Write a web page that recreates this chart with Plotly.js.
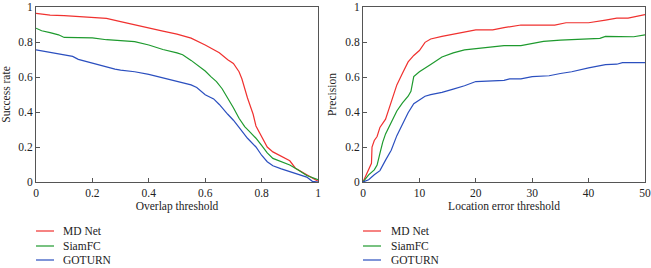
<!DOCTYPE html>
<html><head><meta charset="utf-8">
<script src="https://cdn.plot.ly/plotly-3.0.1.min.js"></script>
<style>body{margin:0;padding:0;background:#fff}#chart{width:651px;height:268px}</style>
</head><body><div id="chart"></div>
<script>
// Success plot (overlap threshold)
const overlapX_md = [0,0.05,0.1,0.2,0.25,0.3,0.35,0.4,0.45,0.5,0.55,0.6,0.65,0.68,0.7,0.72,0.73,0.75,0.77,0.78,0.8,0.82,0.84,0.87,0.9,0.92,0.95,0.98,1.0];
const successMD = [0.963,0.953,0.951,0.942,0.935,0.916,0.897,0.880,0.862,0.845,0.822,0.783,0.738,0.699,0.677,0.63,0.59,0.48,0.387,0.32,0.256,0.2,0.172,0.148,0.121,0.079,0.05,0.022,0.005];
const overlapX_siam = [0,0.02,0.05,0.08,0.1,0.15,0.2,0.25,0.3,0.35,0.4,0.45,0.5,0.52,0.55,0.58,0.6,0.62,0.64,0.66,0.68,0.7,0.72,0.74,0.76,0.78,0.8,0.82,0.84,0.87,0.9,0.93,0.96,1.0];
const successSiam = [0.879,0.864,0.854,0.841,0.826,0.824,0.824,0.813,0.807,0.802,0.783,0.757,0.738,0.727,0.695,0.658,0.634,0.602,0.574,0.533,0.48,0.424,0.364,0.316,0.284,0.25,0.209,0.166,0.135,0.116,0.097,0.069,0.037,0.013];
const overlapX_go = [0,0.05,0.1,0.13,0.15,0.2,0.25,0.28,0.3,0.35,0.4,0.45,0.5,0.55,0.57,0.6,0.63,0.65,0.68,0.7,0.72,0.75,0.78,0.8,0.82,0.84,0.87,0.9,0.93,0.96,0.98,1.0];
const successGo = [0.755,0.742,0.729,0.718,0.701,0.679,0.656,0.645,0.639,0.630,0.615,0.596,0.578,0.555,0.540,0.499,0.475,0.443,0.387,0.353,0.312,0.25,0.2,0.153,0.116,0.093,0.075,0.06,0.047,0.028,0.004,0.0];

// Precision plot (location error threshold)
const locX_md = [0,1,1.5,1.6,2,2.5,3,4,5,6,7,8,9,10,11,12,14,16,18,20,23,25,28,30,34,36,40,43,45,47,50];
const precMD = [0,0.07,0.107,0.2,0.237,0.26,0.312,0.359,0.462,0.555,0.621,0.686,0.723,0.751,0.798,0.817,0.832,0.845,0.86,0.869,0.869,0.882,0.897,0.897,0.897,0.91,0.91,0.925,0.936,0.936,0.957];
const locX_siam = [0,1,2,2.5,3,3.5,4,5,6,7,8,8.5,9,10,11,12,14,16,18,20,23,25,28,30,32,35,38,42,43,48,50];
const precSiam = [0,0.041,0.069,0.097,0.163,0.228,0.275,0.34,0.406,0.452,0.49,0.518,0.602,0.63,0.649,0.671,0.714,0.738,0.755,0.761,0.774,0.779,0.779,0.793,0.804,0.811,0.817,0.821,0.832,0.83,0.841];
const locX_go = [0,1,2,3,4,5,6,7,8,9,10,11,12,14,16,18,20,23,25,26,28,30,33,35,37,40,43,45,46,50];
const precGo = [0,0.013,0.041,0.065,0.125,0.181,0.265,0.331,0.396,0.447,0.471,0.49,0.499,0.512,0.531,0.55,0.574,0.579,0.581,0.589,0.589,0.602,0.607,0.62,0.63,0.652,0.671,0.673,0.682,0.682];

const names = ['MD Net','SiamFC','GOTURN'];
const colors = ['#f0312f','#1e9a2e','#2b4fbf'];

const traces = [
  {x:overlapX_md,y:successMD,name:names[0]},
  {x:overlapX_siam,y:successSiam,name:names[1]},
  {x:overlapX_go,y:successGo,name:names[2]},
  {x:locX_md,y:precMD,name:names[0],xaxis:'x2',yaxis:'y2'},
  {x:locX_siam,y:precSiam,name:names[1],xaxis:'x2',yaxis:'y2'},
  {x:locX_go,y:precGo,name:names[2],xaxis:'x2',yaxis:'y2'}
].map((t,i)=>Object.assign({type:'scatter',mode:'lines',line:{color:colors[i%3],width:1.2},showlegend:false},t));

const W=651,H=268;
const font = {family:'Liberation Serif, Times New Roman, serif',size:11.5,color:'#222'};
const axBase = {showline:true,linecolor:'#555',linewidth:1,mirror:true,ticks:'inside',ticklen:4,tickcolor:'#555',showgrid:false,zeroline:false,automargin:false,ticklabeloverflow:'allow',tickfont:{size:11.5}};
const yDom = [1-182/H, 1-7/H];

// legend drawn as shapes + text annotations, one block under each panel
const shapes=[], annotations=[];
const legendRows=[231,246,260];
[[36,61],[363,389]].forEach(([lx,tx])=>{
  names.forEach((n,i)=>{
    const yy=1-legendRows[i]/H;
    shapes.push({type:'line',xref:'paper',yref:'paper',x0:lx/W,x1:(lx+18)/W,y0:yy,y1:yy,line:{color:colors[i],width:1.2}});
    annotations.push({xref:'paper',yref:'paper',x:tx/W,y:yy,xanchor:'left',yanchor:'middle',text:n,showarrow:false,font:{size:11.5,color:'#222'}});
  });
});

const layout = {
  width:W,height:H,margin:{l:0,r:0,t:0,b:0},
  paper_bgcolor:'#fff',plot_bgcolor:'#fff',font:font,showlegend:false,
  xaxis:Object.assign({},axBase,{domain:[36/W,318/W],range:[0,1],dtick:0.2,anchor:'y',title:{text:'Overlap threshold',standoff:4,font:{size:11.5}}}),
  yaxis:Object.assign({},axBase,{domain:yDom,range:[0,1],dtick:0.2,anchor:'x',title:{text:'Success rate',standoff:6,font:{size:11.5}}}),
  xaxis2:Object.assign({},axBase,{domain:[363/W,645/W],range:[0,50],dtick:10,anchor:'y2',title:{text:'Location error threshold',standoff:4,font:{size:11.5}}}),
  yaxis2:Object.assign({},axBase,{domain:yDom,range:[0,1],dtick:0.2,anchor:'x2',title:{text:'Precision',standoff:6,font:{size:11.5}}}),
  shapes:shapes, annotations:annotations
};
Plotly.newPlot('chart',traces,layout,{displayModeBar:false,staticPlot:true});
</script></body></html>
